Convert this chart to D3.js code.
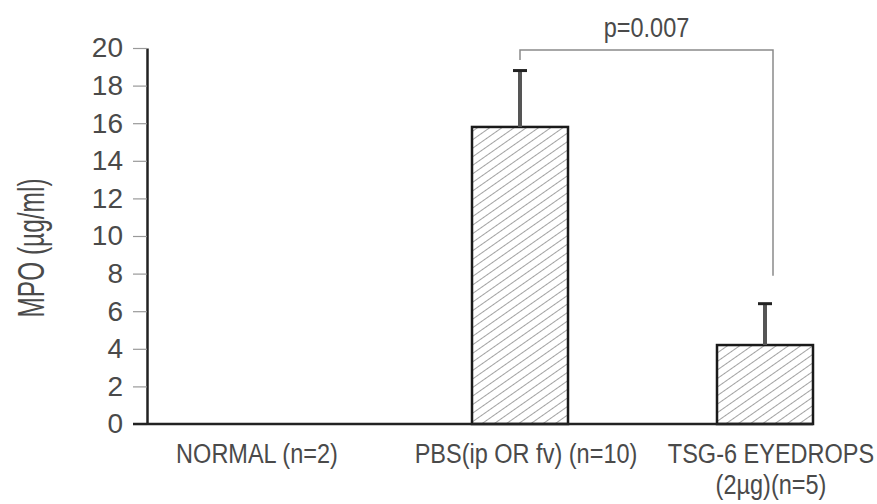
<!DOCTYPE html>
<html>
<head>
<meta charset="utf-8">
<script src="https://cdn.jsdelivr.net/npm/d3@7"></script>
<style>
  html, body { margin: 0; padding: 0; background: #fff; }
  svg { display: block; }
  text { font-family: "Liberation Sans", Arial, sans-serif; fill: #4a4a4a; }
</style>
</head>
<body>
<svg id="chart" width="877" height="504"></svg>
<script>
// ---- data ----
const categories = ["NORMAL (n=2)", "PBS(ip OR fv) (n=10)", "TSG-6 EYEDROPS\n(2\u00b5g)(n=5)"];
const means = [0, 15.8, 4.2];
const errorTops = [null, 18.8, 6.4];
const yTicks = [0, 2, 4, 6, 8, 10, 12, 14, 16, 18, 20];
const yLabel = "MPO (\u00b5g/ml)";
const sigPair = [1, 2];
const sigLabel = "p=0.007";

// ---- layout ----
const svg = d3.select("#chart");
const axisX = 147;
const y = d3.scaleLinear().domain([0, 20]).range([424, 48]);
const x = d3.scalePoint().domain(categories).range([275, 765]);
const barW = 96;
const squeeze = 0.84;

// hatch pattern
const defs = svg.append("defs");
const pat = defs.append("pattern")
  .attr("id", "hatch").attr("patternUnits", "userSpaceOnUse")
  .attr("width", 7).attr("height", 7)
  .attr("patternTransform", "rotate(55)");
pat.append("rect").attr("width", 7).attr("height", 7).attr("fill", "#fff");
pat.append("line").attr("x1", 0).attr("y1", 0).attr("x2", 0).attr("y2", 7)
  .attr("stroke", "#8a8a8a").attr("stroke-width", 1.6);

// y axis
const yAxis = d3.axisLeft(y).tickValues(yTicks).tickSize(14).tickPadding(10).tickSizeOuter(0);
const gy = svg.append("g").attr("transform", `translate(${axisX},0)`).call(yAxis);
gy.select(".domain").attr("stroke", "#222").attr("stroke-width", 2.5);
gy.selectAll(".tick line").attr("stroke", "#999").attr("stroke-width", 1.2);
gy.selectAll(".tick text").attr("font-size", 28).attr("fill", "#4a4a4a")
  .attr("font-family", "Liberation Sans, Arial, sans-serif");

// y label
svg.append("g").attr("transform", "translate(44,248) rotate(-90) scale(0.68,1)")
  .append("text").attr("text-anchor", "middle").attr("font-size", 36).text(yLabel);

// bars
const bars = svg.append("g");
categories.forEach((c, i) => {
  if (means[i] > 0) {
    bars.append("rect")
      .attr("x", x(c) - barW / 2).attr("y", y(means[i]))
      .attr("width", barW).attr("height", y(0) - y(means[i]))
      .attr("fill", "url(#hatch)").attr("stroke", "#1a1a1a").attr("stroke-width", 2.5);
  }
  if (errorTops[i] != null) {
    bars.append("line")
      .attr("x1", x(c)).attr("x2", x(c))
      .attr("y1", y(means[i])).attr("y2", y(errorTops[i]))
      .attr("stroke", "#555").attr("stroke-width", 4);
    bars.append("line")
      .attr("x1", x(c) - 7).attr("x2", x(c) + 7)
      .attr("y1", y(errorTops[i])).attr("y2", y(errorTops[i]))
      .attr("stroke", "#222").attr("stroke-width", 3);
  }
});

// x axis line
const lastCat = categories[categories.length - 1];
svg.append("line")
  .attr("x1", axisX - 14).attr("x2", x(lastCat) + barW / 2)
  .attr("y1", y(0)).attr("y2", y(0))
  .attr("stroke", "#222").attr("stroke-width", 2.5);

// x labels
categories.forEach((c, i) => {
  const lines = c.split("\n");
  lines.forEach((t, k) => {
    svg.append("g")
      .attr("transform", `translate(${x(c) + (i === 0 ? -18 : 6)},${463 + k * 31}) scale(${squeeze},1)`)
      .append("text").attr("text-anchor", "middle").attr("font-size", 28).text(t);
  });
});

// significance bracket
const xa = x(categories[sigPair[0]]), xb = x(categories[sigPair[1]]) + 8;
const by = 50;
svg.append("path")
  .attr("d", `M${xa},${by + 10} L${xa},${by} L${xb},${by} L${xb},${y(errorTops[sigPair[1]]) - 28}`)
  .attr("fill", "none").attr("stroke", "#8a8a8a").attr("stroke-width", 1.5);
svg.append("g").attr("transform", `translate(${(xa + xb) / 2},37) scale(${squeeze},1)`)
  .append("text").attr("text-anchor", "middle").attr("font-size", 28).text(sigLabel);
</script>
</body>
</html>
